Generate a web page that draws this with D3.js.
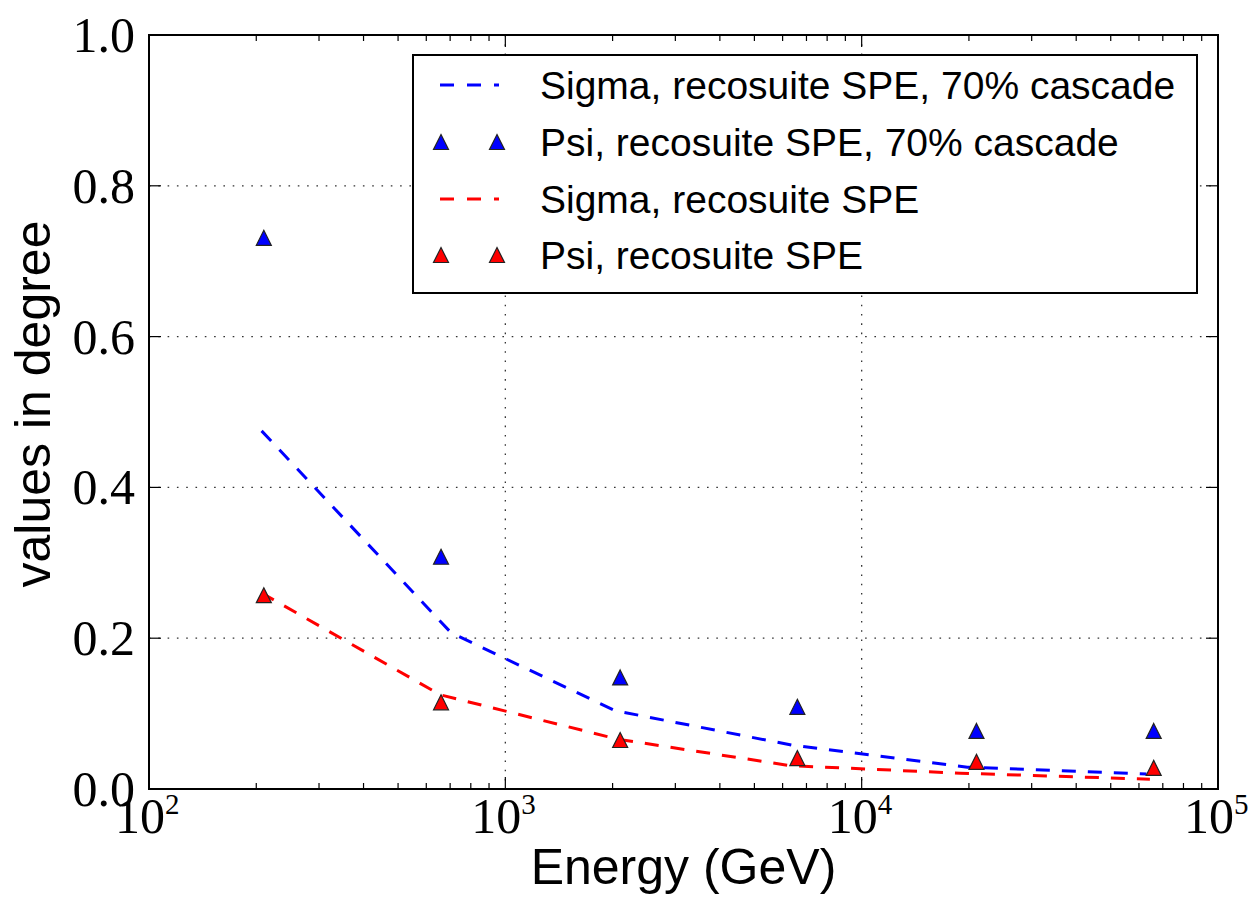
<!DOCTYPE html>
<html>
<head>
<meta charset="utf-8">
<script src="https://cdn.jsdelivr.net/npm/d3@7"></script>
<style>
  html, body { margin: 0; padding: 0; background: #fff; }
  svg { display: block; }
</style>
</head>
<body>
<svg id="chart" width="1249" height="905"></svg>
<script>
// ---------------- data ----------------
const psiEnergies = [210, 660, 2100, 6600, 21000, 66000];
const psiCascade = [0.731, 0.308, 0.148, 0.109, 0.077, 0.077];
const psiSPE     = [0.257, 0.115, 0.065, 0.041, 0.036, 0.028];

const sigmaCascadeEnergies = [207, 705, 2030, 6400, 19800, 63000];
const sigmaCascade         = [0.475, 0.207, 0.104, 0.058, 0.029, 0.020];
const sigmaSPEEnergies     = [207, 656, 2070, 6300, 18900, 64400];
const sigmaSPE             = [0.260, 0.125, 0.066, 0.031, 0.021, 0.013];

const yTicks = [0.0, 0.2, 0.4, 0.6, 0.8, 1.0];
const yTickLabels = ["0.0", "0.2", "0.4", "0.6", "0.8", "1.0"];
const xTicks = [1e2, 1e3, 1e4, 1e5];
const xTickExponents = ["2", "3", "4", "5"];

const legendLabels = [
  "Sigma, recosuite SPE, 70% cascade",
  "Psi, recosuite SPE, 70% cascade",
  "Sigma, recosuite SPE",
  "Psi, recosuite SPE"
];

// ---------------- layout ----------------
const L = 149, R = 1218, T = 35, B = 789;
const svg = d3.select("#chart");

const x = d3.scaleLog().domain([1e2, 1e5]).range([L, R]);
const y = d3.scaleLinear().domain([0, 1]).range([B, T]);

const serif = "'Liberation Serif', 'DejaVu Serif', serif";
const sans = "'Liberation Sans', Arial, sans-serif";

// gridlines (dotted)
const grid = svg.append("g");
grid.selectAll("line.gy").data(yTicks.filter(d => d > 0 && d < 1)).join("line")
  .attr("x1", L).attr("x2", R)
  .attr("y1", d => y(d)).attr("y2", d => y(d))
  .attr("stroke", "#333").attr("stroke-width", 1.3)
  .attr("stroke-dasharray", "1.6,7.7");
grid.selectAll("line.gx").data(xTicks.slice(1, -1)).join("line")
  .attr("x1", d => x(d)).attr("x2", d => x(d))
  .attr("y1", T).attr("y2", B)
  .attr("stroke", "#333").attr("stroke-width", 1.3)
  .attr("stroke-dasharray", "1.6,7.7");

// minor x ticks
const minorX = [];
for (let dec = 100; dec < 1e5; dec *= 10) for (let m = 2; m <= 9; m++) minorX.push(dec * m);

const ticks = svg.append("g").attr("stroke", "#000").attr("stroke-width", 1.2);
ticks.selectAll("line.bx").data(xTicks).join("line")
  .attr("x1", d => x(d)).attr("x2", d => x(d)).attr("y1", B).attr("y2", B - 12);
ticks.selectAll("line.tx").data(xTicks).join("line")
  .attr("x1", d => x(d)).attr("x2", d => x(d)).attr("y1", T).attr("y2", T + 12);
ticks.selectAll("line.bm").data(minorX).join("line")
  .attr("x1", d => x(d)).attr("x2", d => x(d)).attr("y1", B).attr("y2", B - 6);
ticks.selectAll("line.tm").data(minorX).join("line")
  .attr("x1", d => x(d)).attr("x2", d => x(d)).attr("y1", T).attr("y2", T + 6);
ticks.selectAll("line.ly").data(yTicks).join("line")
  .attr("x1", L).attr("x2", L + 12).attr("y1", d => y(d)).attr("y2", d => y(d));
ticks.selectAll("line.ry").data(yTicks).join("line")
  .attr("x1", R).attr("x2", R - 12).attr("y1", d => y(d)).attr("y2", d => y(d));

// y tick labels
svg.append("g").selectAll("text").data(yTicks).join("text")
  .attr("x", L - 14).attr("y", d => y(d) + 17)
  .attr("text-anchor", "end")
  .attr("font-family", serif).attr("font-size", 50)
  .text((d, i) => yTickLabels[i]);

// x tick labels 10^n
const xl = svg.append("g").selectAll("text").data(xTicks).join("text")
  .attr("x", d => x(d) - 34).attr("y", 833)
  .attr("font-family", serif).attr("font-size", 50);
xl.append("tspan").text("10");
xl.append("tspan").attr("dy", -19).attr("font-size", 29).text((d, i) => xTickExponents[i]);

// axis titles
svg.append("text")
  .attr("x", (L + R) / 2).attr("y", 884)
  .attr("text-anchor", "middle")
  .attr("font-family", sans).attr("font-size", 50)
  .text("Energy (GeV)");
svg.append("text")
  .attr("transform", `translate(50, ${(T + B) / 2 - 8}) rotate(-90)`)
  .attr("text-anchor", "middle")
  .attr("font-family", sans).attr("font-size", 50)
  .text("values in degree");

// lines
const line = d3.line().x(d => x(d[0])).y(d => y(d[1]));
const plot = svg.append("g");
plot.append("path")
  .datum(sigmaCascadeEnergies.map((e, i) => [e, sigmaCascade[i]]))
  .attr("d", line).attr("fill", "none")
  .attr("stroke", "#0000ff").attr("stroke-width", 3)
  .attr("stroke-dasharray", "14,12");
plot.append("path")
  .datum(sigmaSPEEnergies.map((e, i) => [e, sigmaSPE[i]]))
  .attr("d", line).attr("fill", "none")
  .attr("stroke", "#ff0000").attr("stroke-width", 3)
  .attr("stroke-dasharray", "14,12");

// triangle markers
const tri = "M0,-7.5L7.5,7.5L-7.5,7.5Z";
plot.selectAll("path.pc").data(psiEnergies.map((e, i) => [e, psiCascade[i]])).join("path")
  .attr("d", tri).attr("transform", d => `translate(${x(d[0])},${y(d[1])})`)
  .attr("fill", "#0000ff").attr("stroke", "#222").attr("stroke-width", 1.2);
plot.selectAll("path.ps").data(psiEnergies.map((e, i) => [e, psiSPE[i]])).join("path")
  .attr("d", tri).attr("transform", d => `translate(${x(d[0])},${y(d[1])})`)
  .attr("fill", "#ff0000").attr("stroke", "#222").attr("stroke-width", 1.2);

// frame
svg.append("rect")
  .attr("x", L).attr("y", T).attr("width", R - L).attr("height", B - T)
  .attr("fill", "none").attr("stroke", "#000").attr("stroke-width", 2);

// legend
const lg = svg.append("g");
lg.append("rect")
  .attr("x", 413).attr("y", 55).attr("width", 784).attr("height", 238)
  .attr("fill", "#fff").attr("stroke", "#000").attr("stroke-width", 2);
const rowY = [85, 142, 199, 255];
const legendColors = ["#0000ff", "#0000ff", "#ff0000", "#ff0000"];
const legendKinds = ["line", "marker", "line", "marker"];
legendLabels.forEach((lab, i) => {
  if (legendKinds[i] === "line") {
    lg.append("line")
      .attr("x1", 440).attr("x2", 499).attr("y1", rowY[i]).attr("y2", rowY[i])
      .attr("stroke", legendColors[i]).attr("stroke-width", 3)
      .attr("stroke-dasharray", "14,13");
  } else {
    [441, 497].forEach(cx => {
      lg.append("path").attr("d", tri)
        .attr("transform", `translate(${cx},${rowY[i]})`)
        .attr("fill", legendColors[i]).attr("stroke", "#222").attr("stroke-width", 1.2);
    });
  }
  lg.append("text")
    .attr("x", 540).attr("y", rowY[i] + 14)
    .attr("font-family", sans).attr("font-size", 39)
    .text(lab);
});
</script>
</body>
</html>
